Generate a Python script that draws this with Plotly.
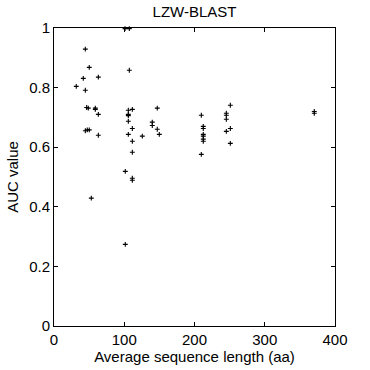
import plotly.graph_objects as go

seq_len = [44.6, 50.2, 41.7, 63.1, 31.7, 44.6, 46.5, 48.8, 58.8, 58.8, 63.1, 44.6, 47.4, 50.2,
           63.1, 53.1, 101.1, 107.2, 107.2, 105.8, 111.5, 105.8, 105.8, 105.8, 111.5, 105.8,
           111.5, 125.7, 111.5, 101.5, 111.5, 111.5, 101.5, 147.0, 139.9, 139.9, 147.0, 149.9,
           209.7, 212.5, 212.5, 212.5, 212.5, 212.5, 212.5, 209.7, 251.0, 245.3, 245.3, 245.3,
           251.0, 245.3, 251.0, 370.5, 370.5]
auc = [0.929, 0.868, 0.831, 0.835, 0.804, 0.791, 0.733, 0.731, 0.731, 0.727, 0.710, 0.655, 0.658,
       0.658, 0.640, 0.429, 0.998, 0.998, 0.858, 0.724, 0.727, 0.710, 0.706, 0.687, 0.663, 0.643,
       0.620, 0.637, 0.583, 0.519, 0.496, 0.489, 0.274, 0.731, 0.684, 0.673, 0.660, 0.643,
       0.707, 0.670, 0.663, 0.643, 0.637, 0.627, 0.620, 0.576, 0.741, 0.714, 0.707, 0.694,
       0.663, 0.653, 0.613, 0.720, 0.714]

font = "Liberation Sans, Arial, sans-serif"

fig = go.Figure(go.Scatter(
    x=seq_len, y=auc, mode="markers",
    marker=dict(symbol="cross-thin", size=3.5, line=dict(width=1.1, color="black"), color="black"),
    cliponaxis=False,
))

axis_common = dict(
    showgrid=False, zeroline=False, showline=True, linecolor="black", linewidth=1,
    mirror="ticks", ticks="inside", ticklen=4, tickcolor="black", automargin=False,
    tickfont=dict(family=font, size=15, color="black"),
)

fig.update_layout(
    width=370, height=370,
    margin=dict(l=54, r=35, t=28, b=44),
    paper_bgcolor="white", plot_bgcolor="white",
    showlegend=False,
    title=dict(text="LZW-BLAST", x=0.5, xanchor="center", xref="paper", y=0.967, yanchor="middle",
               font=dict(family=font, size=15, color="black")),
    xaxis=dict(range=[0, 400], dtick=100, tick0=0,
               title=dict(text="Average sequence length (aa)", standoff=2,
                          font=dict(family=font, size=15, color="black")),
               **axis_common),
    yaxis=dict(range=[0, 1], dtick=0.2, tick0=0,
               title=dict(text="AUC value", standoff=6,
                          font=dict(family=font, size=15, color="black")),
               **axis_common),
)

fig.write_html("out.html")
